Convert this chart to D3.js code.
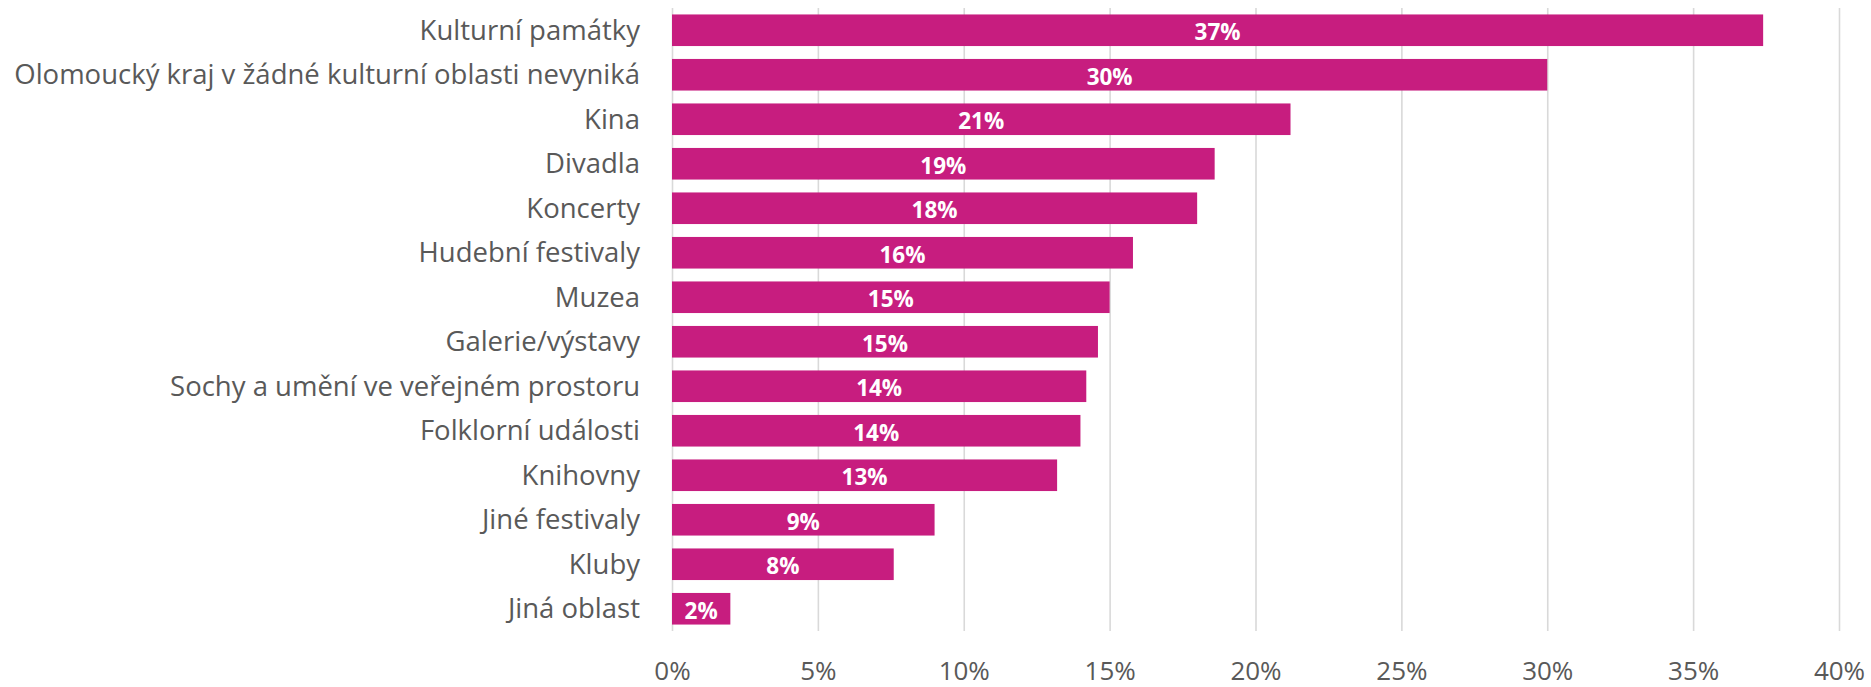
<!DOCTYPE html>
<html lang="cs">
<head>
<meta charset="utf-8">
<script src="https://cdn.jsdelivr.net/npm/d3@7"></script>
<style>
  html, body { margin: 0; padding: 0; background: #ffffff; }
  svg { display: block; }
  .cat text { font-family: "Open Sans", "Noto Sans", sans-serif; fill: #595959; }
  .xaxis text { font-family: "Open Sans", "Noto Sans", sans-serif; fill: #595959; }
  .val { font-family: "Open Sans", "Noto Sans", sans-serif; font-weight: 700; fill: #ffffff; }
</style>
</head>
<body>
<svg id="chart" width="1871" height="687"></svg>
<script>
// Oblasti kultury, ve kterých Olomoucký kraj vyniká (podíl odpovědí)
const categories = [
  "Kulturní památky",
  "Olomoucký kraj v žádné kulturní oblasti nevyniká",
  "Kina",
  "Divadla",
  "Koncerty",
  "Hudební festivaly",
  "Muzea",
  "Galerie/výstavy",
  "Sochy a umění ve veřejném prostoru",
  "Folklorní události",
  "Knihovny",
  "Jiné festivaly",
  "Kluby",
  "Jiná oblast"
];
const shares = [37.4, 30.0, 21.2, 18.6, 18.0, 15.8, 15.0, 14.6, 14.2, 14.0, 13.2, 9.0, 7.6, 2.0];
const tickValues = [0, 5, 10, 15, 20, 25, 30, 35, 40];

const plot = { left: 672, right: 1839, top: 8, bottom: 631 };
const barColor = "#C71D7F";

const svg = d3.select("#chart");

const x = d3.scaleLinear().domain([0, 40]).range([plot.left, plot.right]);
const y = d3.scaleBand()
  .domain(categories)
  .range([plot.top, plot.bottom])
  .paddingInner(0.29)
  .paddingOuter(0.145);

// vertical gridlines (including the 0 % line acting as the category axis)
svg.append("g")
  .attr("class", "grid")
  .attr("transform", `translate(0,${plot.bottom})`)
  .call(d3.axisBottom(x).tickValues(tickValues).tickSize(-(plot.bottom - plot.top)).tickFormat(""))
  .call(g => g.select(".domain").remove())
  .call(g => g.selectAll("line").attr("stroke", "#d9d9d9").attr("stroke-width", 1.6));

// percentage tick labels under the plot
svg.append("g")
  .attr("class", "xaxis")
  .attr("transform", `translate(0,${plot.bottom})`)
  .call(d3.axisBottom(x).tickValues(tickValues).tickSize(0).tickFormat(d => d + "%"))
  .call(g => g.select(".domain").remove())
  .call(g => g.selectAll("text")
    .attr("y", 49).attr("dy", 0)
    .style("font-size", "26px"));

// category labels on the left
svg.append("g")
  .attr("class", "cat")
  .attr("transform", `translate(${plot.left},0)`)
  .call(d3.axisLeft(y).tickSize(0).tickPadding(32))
  .call(g => g.select(".domain").remove())
  .call(g => g.selectAll("text")
    .attr("dy", 0)
    .attr("y", 9.5)
    .style("font-size", "27.5px"));

// bars
svg.append("g")
  .selectAll("rect")
  .data(shares)
  .join("rect")
  .attr("x", x(0))
  .attr("y", (d, i) => y(categories[i]))
  .attr("width", d => x(d) - x(0))
  .attr("height", y.bandwidth())
  .attr("fill", barColor);

// value labels centred in bars
svg.append("g")
  .selectAll("text")
  .data(shares)
  .join("text")
  .attr("class", "val")
  .attr("x", d => (x(0) + x(d)) / 2)
  .attr("y", (d, i) => y(categories[i]) + y.bandwidth() / 2 + 10)
  .attr("text-anchor", "middle")
  .style("font-size", "22.5px")
  .text(d => Math.round(d) + "%");
</script>
</body>
</html>
